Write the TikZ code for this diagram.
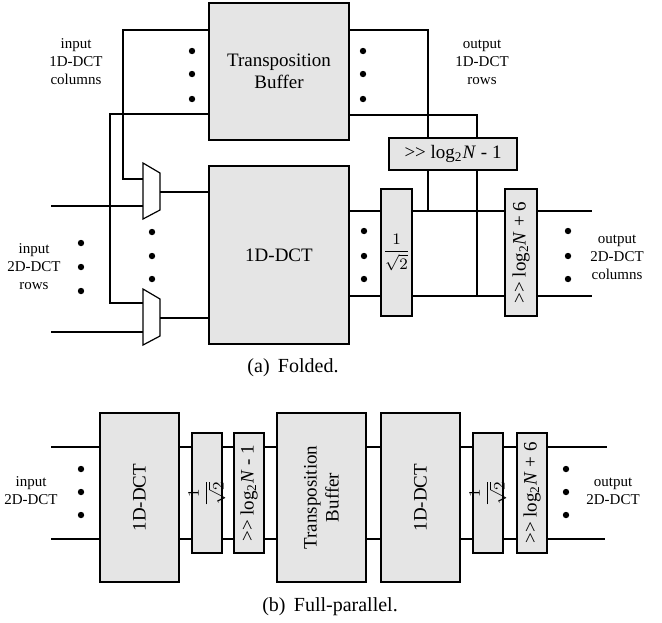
\documentclass[tikz,border=0pt]{standalone}
\usepackage{fontspec}
\setmainfont{Liberation Serif}
\usetikzlibrary{positioning,calc}
\tikzset{
  blk/.style={draw, fill=black!10, line width=0.6pt, inner sep=0pt, align=center, font=\fontsize{9.5}{11}\selectfont},
  wire/.style={line width=0.6pt},
  lbl/.style={align=center, font=\fontsize{7.5}{9}\selectfont},
  capt/.style={font=\fontsize{10}{12}\selectfont}
}
\newcommand{\shiftlog}[1]{>{}> log\textsubscript{2}\textit{N} #1}
\newcommand{\invsq}{$\displaystyle\frac{1}{\sqrt{2}}$}

\begin{document}
\begin{tikzpicture}[x=0.5pt, y=-0.5pt]
    \useasboundingbox (0,0) rectangle (662,622);

    % (a) folded
    \node[blk, minimum width=70pt, minimum height=68.5pt] (tb) at (279,71.5) {Transposition\\Buffer};
    \node[blk, minimum width=70pt, minimum height=89pt] (dctA) at (279,255) {1D-DCT};
    \node[blk, minimum width=64pt, minimum height=16pt] (shiftA) at (453,154) {\shiftlog{- 1}};
    \node[blk, minimum width=15.5pt, minimum height=63.5pt, font=\fontsize{8}{9}\selectfont] (sqA) at (396.5,252.5) {\invsq};
    \node[blk, minimum width=16pt, minimum height=63.5pt, label={[rotate=90, font=\fontsize{9.5}{11}\selectfont]center:\shiftlog{+ 6}}] (outA) at (521,252.5) {};

    % multiplexers
    \draw[wire] (143,163) -- (160,173) -- (160,210) -- (143,219) -- cycle;
    \draw[wire] (143,289) -- (160,299) -- (160,336) -- (143,345) -- cycle;
    \coordinate (m1a) at (143,179);
    \coordinate (m1b) at (143,206);
    \coordinate (m1o) at (160,192);
    \coordinate (m2a) at (143,303);
    \coordinate (m2b) at (143,332);
    \coordinate (m2o) at (160,318);

    % feedback from the buffer
    \coordinate (tl1) at (123,30);
    \coordinate (tl2) at (110,114);
    \draw[wire] (tb.west |- tl1) -- (tl1) |- (m1a);
    \draw[wire] (tb.west |- tl2) -- (tl2) |- (m2a);
    \coordinate (in1) at (51,206);
    \coordinate (in2) at (51,332);
    \draw[wire] (in1) -- (m1b);
    \draw[wire] (in2) -- (m2b);
    \draw[wire] (m1o) -- (dctA.west |- m1o);
    \draw[wire] (m2o) -- (dctA.west |- m2o);

    \coordinate (tr1) at (428,30);
    \coordinate (tr2) at (477,115);
    \draw[wire] (tb.east |- tr1) -- (tr1) -- (tr1 |- shiftA.north);
    \draw[wire] (tb.east |- tr2) -- (tr2) -- (tr2 |- shiftA.north);
    \coordinate (j1) at (428,211);
    \coordinate (j2) at (477,296);
    \draw[wire] (shiftA.south -| j1) -- (j1);
    \draw[wire] (shiftA.south -| j2) -- (j2);

    \coordinate (out1) at (592,211);
    \coordinate (out2) at (592,296);
    \foreach \w in {out1,out2} {
      \draw[wire] (dctA.east |- \w) -- (sqA.west |- \w);
      \draw[wire] (sqA.east |- \w) -- (outA.west |- \w);
      \draw[wire] (outA.east |- \w) -- (\w);
    }

    \foreach \x/\y in {192/51, 192/74, 192/99, 363/51, 363/74, 363/99,
                       152/232, 152/256, 152/279, 81/243, 81/267, 81/291,
                       364/231, 364/256, 364/279, 568/231, 568/256, 568/279}
      \fill (\x,\y) circle (1.6pt);

    \node[lbl] (lin1) at (76,62) {input\\1D-DCT\\columns};
    \node[lbl] (lout1) at (482,62) {output\\1D-DCT\\rows};
    \node[lbl] (lin2) at (34,267) {input\\2D-DCT\\rows};
    \node[lbl] (lout2) at (617,257) {output\\2D-DCT\\columns};
    \node[capt] (capA) at (293,368) {(a)\, Folded.};

    % (b) full-parallel
    \tikzset{tall/.style={blk, minimum height=84.5pt}, thin/.style={blk, minimum width=15pt, minimum height=60pt}}
    \node[tall, minimum width=39.5pt, label={[rotate=90, font=\fontsize{9.5}{11}\selectfont]center:1D-DCT}] (dct1) at (139.5,497.5) {};
    \node[thin, label={[rotate=90, font=\fontsize{8}{9}\selectfont]center:\invsq}] (sq1) at (207,493) {};
    \node[thin, label={[rotate=90, font=\fontsize{9.5}{11}\selectfont]center:\shiftlog{- 1}}] (sh1) at (249,493) {};
    \node[tall, minimum width=44.5pt, label={[rotate=90, align=center, font=\fontsize{9.5}{11}\selectfont]center:Transposition\\Buffer}] (tbB) at (321.5,497.5) {};
    \node[tall, minimum width=39.5pt, label={[rotate=90, font=\fontsize{9.5}{11}\selectfont]center:1D-DCT}] (dct2) at (420.5,497.5) {};
    \node[thin, label={[rotate=90, font=\fontsize{8}{9}\selectfont]center:\invsq}] (sq2) at (488,493) {};
    \node[thin, label={[rotate=90, font=\fontsize{9.5}{11}\selectfont]center:\shiftlog{+ 6}}] (sh2) at (532,493) {};

    \coordinate (bin1) at (51,447);
    \coordinate (bin2) at (51,539);
    \coordinate (bout1) at (607,447);
    \coordinate (bout2) at (605,539);
    \foreach \i/\o in {bin1/bout1, bin2/bout2} {
      \draw[wire] (\i) -- (dct1.west |- \i);
      \foreach \a/\b in {dct1/sq1, sq1/sh1, sh1/tbB, tbB/dct2, dct2/sq2, sq2/sh2}
        \draw[wire] (\a.east |- \i) -- (\b.west |- \i);
      \draw[wire] (sh2.east |- \o) -- (\o);
    }

    \foreach \x in {81, 566}
      \foreach \y in {469, 492, 515}
        \fill (\x,\y) circle (1.6pt);

    \node[lbl] (lin3) at (31,491) {input\\2D-DCT};
    \node[lbl] (lout3) at (613,491) {output\\2D-DCT};
    \node[capt] (capB) at (330,607) {(b)\, Full-parallel.};
\end{tikzpicture}
\end{document}
